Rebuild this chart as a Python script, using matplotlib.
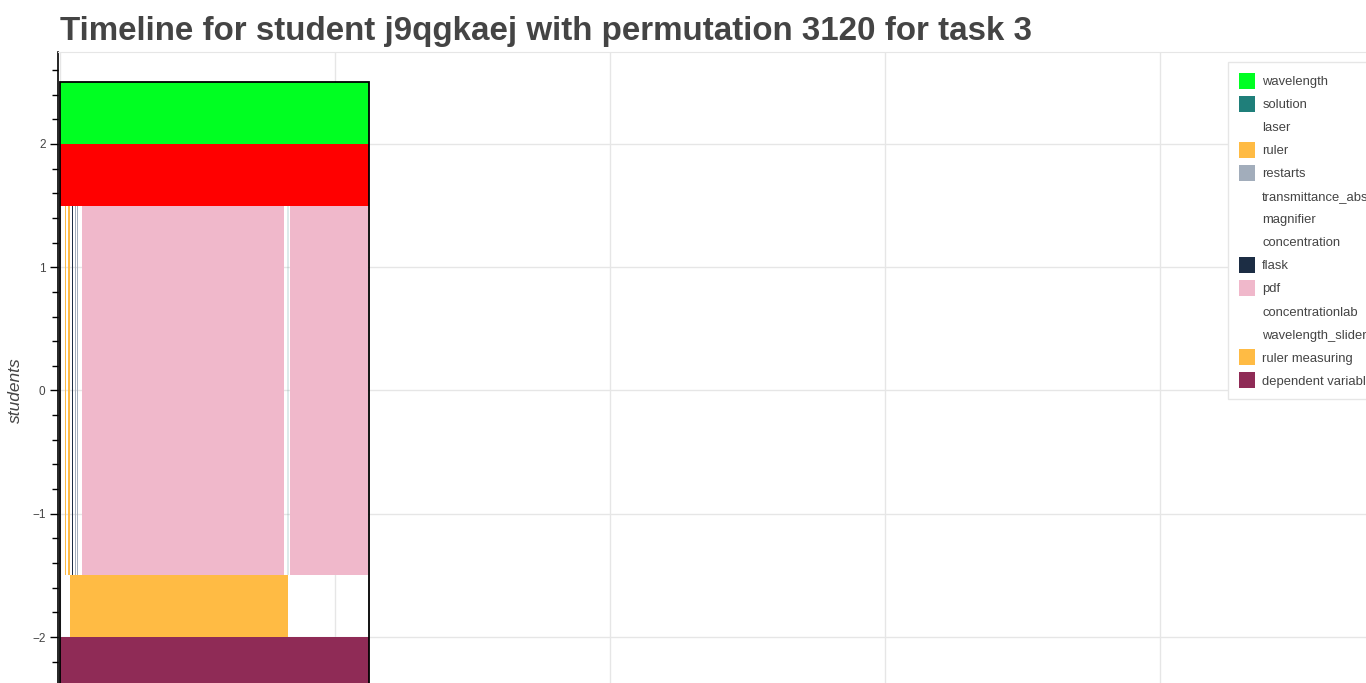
import matplotlib
matplotlib.use("Agg")
import matplotlib.pyplot as plt
from matplotlib.patches import Patch, Rectangle
from matplotlib.ticker import MultipleLocator

plt.rcParams["font.family"] = ["Liberation Sans", "DejaVu Sans"]

# ── data: one row per bar (time in seconds, y = row bounds) ─────────────────
bar_category = ["wavelength", "red", "pdf", "pdf", "ruler measuring",
                "dependent variable", "ruler", "ruler", "flask",
                "restarts", "restarts", "solution"]
bar_start = [0.0, 0.0, 7.9, 83.6, 3.64, 0.0, 1.75, 2.8, 4.44, 5.45, 6.2, 82.6]
bar_end   = [112.4, 112.4, 81.3, 112.0, 82.9, 112.4, 2.25, 3.8, 4.65, 5.8, 6.5, 83.2]
bar_low   = [2.0, 1.5, -1.5, -1.5, -2.0, -2.5, -1.5, -1.5, -1.5, -1.5, -1.5, -1.5]
bar_high  = [2.5, 2.0, 1.5, 1.5, -1.5, -2.0, 1.5, 1.5, 1.5, 1.5, 1.5, 1.5]

session_start, session_end = 0.0, 112.4
session_low, session_high = -2.5, 2.5

legend_labels = ["wavelength", "solution", "laser", "ruler", "restarts",
                 "transmittance_absorbance", "magnifier", "concentration",
                 "flask", "pdf", "concentrationlab", "wavelength_slider",
                 "ruler measuring", "dependent variable"]

# ── colours ────────────────────────────────────────────────────────────────
PALETTE = {
    "wavelength": "#00ff22",
    "solution": "#1f7f7a",
    "laser": "#ffffff",
    "ruler": "#ffbb44",
    "restarts": "#a2adbb",
    "transmittance_absorbance": "#ffffff",
    "magnifier": "#ffffff",
    "concentration": "#ffffff",
    "flask": "#1c2d44",
    "pdf": "#f0b8cb",
    "concentrationlab": "#ffffff",
    "wavelength_slider": "#ffffff",
    "ruler measuring": "#ffbb44",
    "dependent variable": "#8f2b56",
    "red": "#ff0000",
}
ALPHA = {"solution": 0.15}
TXT = "#444444"
GRID = "#e6e6e6"

W, H = 1366, 683
fig = plt.figure(figsize=(W / 100, H / 100), dpi=100)
ax = fig.add_axes([58 / W, 0, 1 - 58 / W, 631 / H])

for cat, x0, x1, y0, y1 in zip(bar_category, bar_start, bar_end, bar_low, bar_high):
    ax.add_patch(Rectangle((x0, y0), x1 - x0, y1 - y0, facecolor=PALETTE[cat],
                           edgecolor="none", alpha=ALPHA.get(cat, 1.0), zorder=2))

# session outline
ax.add_patch(Rectangle((session_start, session_low), session_end - session_start,
                       session_high - session_low, facecolor="none",
                       edgecolor="black", lw=1.3, zorder=3))

ax.set_xlim(-0.7, 474.9)
ax.set_ylim(-2.373, 2.746)

ax.xaxis.set_major_locator(MultipleLocator(100))
ax.yaxis.set_major_locator(MultipleLocator(1))
ax.yaxis.set_minor_locator(MultipleLocator(0.2))
ax.grid(True, color=GRID, lw=1, zorder=0)
ax.set_axisbelow(True)
ax.tick_params(axis="x", bottom=False, labelbottom=False)
ax.tick_params(axis="y", which="major", length=6, width=1, color="black",
               labelsize=8.5, labelcolor=TXT, pad=3)
ax.tick_params(axis="y", which="minor", length=4, width=1, color="black")

for s in ("right", "bottom"):
    ax.spines[s].set_visible(False)
ax.spines["top"].set_color(GRID)
ax.spines["left"].set_color("black")
ax.spines["left"].set_linewidth(1.2)

ax.set_ylabel("students", fontsize=12.5, style="italic", color=TXT)
ax.yaxis.set_label_coords(-0.0268, 0.464)

handles = [Patch(facecolor=PALETTE[l], edgecolor="none") for l in legend_labels]
leg = ax.legend(handles, legend_labels, loc="upper left",
                bbox_to_anchor=(0.8945, 0.984), borderaxespad=0,
                fontsize=9.4, handlelength=1.25, handleheight=1.5,
                labelspacing=0.545, borderpad=0.82, handletextpad=0.55,
                fancybox=False, framealpha=1, edgecolor=GRID)
for t in leg.get_texts():
    t.set_color(TXT)

fig.text(60 / W, 1 - 40 / H, "Timeline for student j9qgkaej with permutation 3120 for task 3",
         fontsize=23.9, fontweight="bold", color=TXT, va="baseline", ha="left")

fig.savefig("out.png", dpi=100)
